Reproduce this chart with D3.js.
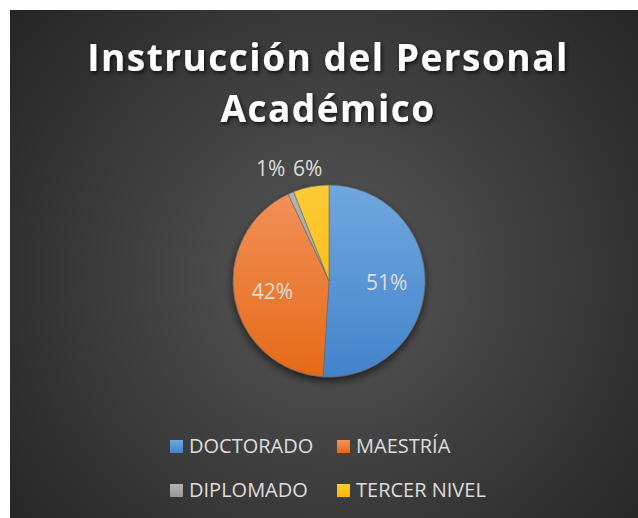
<!DOCTYPE html>
<html>
<head>
<meta charset="utf-8">
<script src="https://cdn.jsdelivr.net/npm/d3@7"></script>
<style>
  html, body { margin: 0; padding: 0; background: #fff; }
  svg { display: block; }
</style>
</head>
<body>
<svg id="chart"></svg>
<script>
// datos del gráfico
const categories = ["DOCTORADO", "MAESTRÍA", "DIPLOMADO", "TERCER NIVEL"];
const values = [51, 42, 1, 6];
const titleLines = ["Instrucción del Personal", "Académico"];

const colorTop = ["#70a8df", "#f2915a", "#b4b4b4", "#ffca38"];
const colorBottom = ["#4383cb", "#e56a17", "#969696", "#f4b800"];

const width = 638, height = 518;
const cx = 329, cy = 281, radius = 96;

const svg = d3.select("#chart")
  .attr("width", width)
  .attr("height", height);

const defs = svg.append("defs");

// sfondo con gradiente radiale
const bg = defs.append("radialGradient")
  .attr("id", "bg-grad")
  .attr("gradientUnits", "userSpaceOnUse")
  .attr("cx", 330).attr("cy", 275).attr("r", 420);
bg.append("stop").attr("offset", "0%").attr("stop-color", "#575757");
bg.append("stop").attr("offset", "100%").attr("stop-color", "#242424");

svg.append("rect")
  .attr("x", 10).attr("y", 10)
  .attr("width", width - 10).attr("height", height - 10)
  .attr("fill", "url(#bg-grad)");

// ombre
const titleShadow = defs.append("filter").attr("id", "title-shadow")
  .attr("x", "-10%").attr("y", "-20%").attr("width", "120%").attr("height", "150%");
titleShadow.append("feDropShadow")
  .attr("dx", 1.5).attr("dy", 2).attr("stdDeviation", 2)
  .attr("flood-color", "#000").attr("flood-opacity", 0.75);

const pieShadow = defs.append("filter").attr("id", "pie-shadow")
  .attr("x", "-20%").attr("y", "-20%").attr("width", "140%").attr("height", "150%");
pieShadow.append("feDropShadow")
  .attr("dx", 0).attr("dy", 4).attr("stdDeviation", 4)
  .attr("flood-color", "#000").attr("flood-opacity", 0.6);

// gradienti per le fette e per la legenda
categories.forEach((c, i) => {
  const g = defs.append("linearGradient")
    .attr("id", "slice-" + i)
    .attr("gradientUnits", "userSpaceOnUse")
    .attr("x1", 0).attr("y1", -radius).attr("x2", 0).attr("y2", radius);
  g.append("stop").attr("offset", "0%").attr("stop-color", colorTop[i]);
  g.append("stop").attr("offset", "100%").attr("stop-color", colorBottom[i]);

  const l = defs.append("linearGradient")
    .attr("id", "leg-" + i)
    .attr("x1", 0).attr("y1", 0).attr("x2", 0).attr("y2", 1);
  l.append("stop").attr("offset", "0%").attr("stop-color", colorTop[i]);
  l.append("stop").attr("offset", "100%").attr("stop-color", colorBottom[i]);
});

// titolo
const title = svg.append("text")
  .attr("text-anchor", "middle")
  .attr("fill", "#ffffff")
  .attr("font-family", "'Open Sans', sans-serif")
  .attr("font-weight", "bold")
  .attr("font-size", 37)
  .attr("letter-spacing", 1.5)
  .attr("filter", "url(#title-shadow)");
title.append("tspan").attr("x", 328).attr("y", 71).text(titleLines[0]);
title.append("tspan").attr("x", 328).attr("y", 122).text(titleLines[1]);

// torta
const pie = d3.pie().sort(null).value(d => d.value);
const data = categories.map((c, i) => ({ name: c, value: values[i], i }));
const arcs = pie(data);
const arc = d3.arc().innerRadius(0).outerRadius(radius);

const pieG = svg.append("g")
  .attr("transform", `translate(${cx},${cy})`);

pieG.append("g")
  .attr("filter", "url(#pie-shadow)")
  .selectAll("path")
  .data(arcs)
  .enter()
  .append("path")
  .attr("d", arc)
  .attr("fill", d => `url(#slice-${d.data.i})`)
  .attr("stroke", "#6a6a6a")
  .attr("stroke-width", 0.6);

// etichette: dentro per le fette grandi, fuori per le piccole
const inArc = d3.arc().innerRadius(radius * 0.6).outerRadius(radius * 0.6);
const outArc = d3.arc().innerRadius(radius * 1.19).outerRadius(radius * 1.19);

const labelPos = arcs.map(d => {
  const small = d.data.value < 10;
  const p = small ? outArc.centroid(d) : inArc.centroid(d);
  return { d, x: p[0], y: p[1], small };
});
// evita sovrapposizione delle etichette esterne
const outer = labelPos.filter(l => l.small);
for (let k = outer.length - 2; k >= 0; k--) {
  const next = outer[k + 1];
  outer[k].x = Math.min(outer[k].x, next.x - 37);
  outer[k].y = next.y;
}

pieG.selectAll("text.lbl")
  .data(labelPos)
  .enter()
  .append("text")
  .attr("class", "lbl")
  .attr("x", l => l.x)
  .attr("y", l => l.y)
  .attr("dy", "0.35em")
  .attr("text-anchor", "middle")
  .attr("fill", "#dedede")
  .attr("font-family", "'Open Sans', sans-serif")
  .attr("font-size", 21)
  .text(l => l.d.data.value + "%");

// legenda
const colX = d3.scaleOrdinal().domain([0, 1]).range([170, 337]);
const rowY = d3.scaleOrdinal().domain([0, 1]).range([453, 497]);

const legend = svg.append("g")
  .selectAll("g")
  .data(data)
  .enter()
  .append("g")
  .attr("transform", d => `translate(${colX(d.i % 2)},${rowY(Math.floor(d.i / 2))})`);

legend.append("rect")
  .attr("x", 0).attr("y", -13)
  .attr("width", 13).attr("height", 13)
  .attr("fill", d => `url(#leg-${d.i})`);

legend.append("text")
  .attr("x", 19)
  .attr("y", 0)
  .attr("fill", "#dedede")
  .attr("font-family", "'Open Sans', sans-serif")
  .attr("font-size", 20)
  .text(d => d.name);
</script>
</body>
</html>
